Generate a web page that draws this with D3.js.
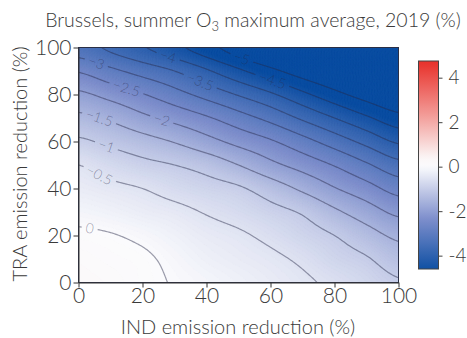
<!DOCTYPE html>
<html><head><meta charset="utf-8">
<script src="https://cdn.jsdelivr.net/npm/d3@7"></script>
<style>
body{margin:0;background:#fff;}
svg{display:block;font-family:Lato,"Open Sans",sans-serif;font-weight:300;}
</style>
</head><body>
<svg id="chart" width="467" height="338"></svg>
<script>
// ---------- data ----------
const indValues = [0,10,20,30,40,50,60,70,80,90,100];   // IND emission reduction (%)
const traValues = [0,10,20,30,40,50,60,70,80,90,100];   // TRA emission reduction (%)
// O3 change (%) ; one row per TRA value, one column per IND value
const o3Change = [
  [ 0.18,  0.15,  0.07, -0.02, -0.11, -0.21, -0.32, -0.44, -0.58, -0.76, -0.96],
  [ 0.15,  0.10,  0.05, -0.08, -0.22, -0.32, -0.42, -0.57, -0.79, -0.96, -1.25],
  [ 0.06,  0.02, -0.07, -0.20, -0.34, -0.44, -0.60, -0.80, -1.00, -1.30, -1.60],
  [-0.12, -0.19, -0.29, -0.38, -0.53, -0.67, -0.85, -1.05, -1.41, -1.76, -2.11],
  [-0.31, -0.40, -0.50, -0.67, -0.81, -0.94, -1.24, -1.59, -1.97, -2.31, -2.69],
  [-0.50, -0.70, -0.87, -1.00, -1.19, -1.50, -1.87, -2.19, -2.53, -2.93, -3.33],
  [-0.92, -1.11, -1.31, -1.53, -1.83, -2.15, -2.44, -2.82, -3.23, -3.65, -4.07],
  [-1.38, -1.58, -1.88, -2.15, -2.44, -2.79, -3.15, -3.58, -4.00, -4.42, -4.82],
  [-1.90, -2.17, -2.47, -2.81, -3.17, -3.54, -3.92, -4.38, -4.83, -5.25, -5.60],
  [-2.54, -2.88, -3.19, -3.50, -3.93, -4.40, -4.85, -5.30, -5.70, -6.10, -6.45],
  [-3.27, -3.60, -3.95, -4.35, -4.80, -5.30, -5.80, -6.25, -6.65, -7.00, -7.30]
];
const contourLevels = [-5,-4.5,-4,-3.5,-3,-2.5,-2,-1.5,-1,-0.5,0];
const labelInd      = [51, 60.6, 28, 38, 5.6, 15, 26, 6.5, 8.7, 6.5, 3.5]; // IND where each level is labelled
const xTicks = [0,20,40,60,80,100];
const yTicks = [0,20,40,60,80,100];
const cbTicks = [4,2,0,-2,-4];
const titleMain = "Brussels, summer O";
const titleSub = "3";
const titleEnd = " maximum average, 2019 (%)";
const xTitle = "IND emission reduction (%)";
const yTitle = "TRA emission reduction (%)";

// ---------- scales ----------
const x = d3.scaleLinear().domain([0,100]).range([78.5,398.5]);
const y = d3.scaleLinear().domain([0,100]).range([282.5,47.5]);
const color = d3.scaleLinear()
  .domain([-4.7,-2.35,0,0.4,2.35,4.7])
  .range(["#0b4ea2","#7d8ecc","#fbfbfd","#fbf6f6","#f29a96","#e8312b"])
  .clamp(true);
const cb = d3.scaleLinear().domain([-4.6,4.75]).range([269,61]);

// ---------- smooth field (Catmull-Rom through the grid values) ----------
function cubic(p0,p1,p2,p3,t){
  return p1 + 0.5*t*(p2-p0 + t*(2*p0-5*p1+4*p2-p3 + t*(3*(p1-p2)+p3-p0)));
}
function field(ind, tra){
  const n = indValues.length-1;
  const u = Math.max(0,Math.min(100,ind))/10, v = Math.max(0,Math.min(100,tra))/10;
  const i = Math.min(Math.floor(u), n-1), j = Math.min(Math.floor(v), n-1);
  const tu = u-i, tv = v-j;
  const c = k => Math.max(0, Math.min(n, k));
  const r = [];
  for (let m=-1;m<=2;m++){
    const row = o3Change[c(j+m)];
    r.push(cubic(row[c(i-1)],row[c(i)],row[c(i+1)],row[c(i+2)],tu));
  }
  return cubic(r[0],r[1],r[2],r[3],tv);
}
const step = 0.5, pad = 2;
const nG = Math.round((100+2*pad)/step)+1;
const grid = new Float64Array(nG*nG);
for (let j=0;j<nG;j++) for (let i=0;i<nG;i++)
  grid[j*nG+i] = field(-pad+i*step, -pad+j*step);
const proj = d3.geoTransform({point(gx,gy){
  this.stream.point(x(-pad+(gx-0.5)*step), y(-pad+(gy-0.5)*step));
}});
const path = d3.geoPath(proj);

// ---------- svg ----------
const svg = d3.select("#chart");
const defs = svg.append("defs");
defs.append("clipPath").attr("id","plotClip").append("rect")
  .attr("x",x(0)).attr("y",y(100)).attr("width",x(100)-x(0)).attr("height",y(0)-y(100));

// heatmap as finely stepped filled contours
const fillThr = d3.range(-7.4, 0.36, 0.04);
const heat = svg.append("g").attr("clip-path","url(#plotClip)");
heat.append("rect").attr("x",x(0)).attr("y",y(100)).attr("width",x(100)-x(0)).attr("height",y(0)-y(100))
  .attr("fill",color(-7.4));
heat.selectAll("path").data(d3.contours().size([nG,nG]).thresholds(fillThr)(grid))
  .join("path").attr("d",path).attr("fill",d=>color(d.value)).attr("stroke",d=>color(d.value)).attr("stroke-width",0.3);

// contour labels
const fmt = d3.format("");
const labels = contourLevels.map((lv,k)=>{
  const xi = labelInd[k];
  let t0 = null;
  for (let t=0;t<100;t+=0.05){
    const a = field(xi,t)-lv, b = field(xi,t+0.05)-lv;
    if (a===0 || a*b<0){ t0 = t + 0.05*a/(a-b); break; }
  }
  const d = 0.5;
  const gx = (field(xi+d,t0)-field(xi-d,t0))/(2*d)/(x(1)-x(0));
  const gy = (field(xi,t0+d)-field(xi,t0-d))/(2*d)/(y(1)-y(0));
  let tx = -gy, ty = gx;
  if (tx<0){tx=-tx;ty=-ty;}
  return {level:lv, px:x(xi), py:y(t0), angle:Math.atan2(ty,tx)*180/Math.PI};
});

const lineColor = "rgb(38,40,72)";
const lblG = svg.append("g");
const lblText = lblG.selectAll("text").data(labels).join("text")
  .attr("transform",d=>`translate(${d.px},${d.py}) rotate(${d.angle})`)
  .attr("text-anchor","middle").attr("dy","0.35em")
  .attr("font-size",14).attr("fill",lineColor).attr("fill-opacity",0.45)
  .text(d=>fmt(d.level));
lblText.each(function(d){ d.w = this.getComputedTextLength(); });

const mask = defs.append("mask").attr("id","lblMask").attr("maskUnits","userSpaceOnUse")
  .attr("x",0).attr("y",0).attr("width",467).attr("height",338);
mask.append("rect").attr("width",467).attr("height",338).attr("fill","#fff");
mask.selectAll("rect.hole").data(labels).join("rect").attr("class","hole")
  .attr("transform",d=>`translate(${d.px},${d.py}) rotate(${d.angle})`)
  .attr("x",d=>-d.w/2-4).attr("y",-8).attr("width",d=>d.w+8).attr("height",16).attr("fill","#000");

svg.insert("g", ()=>lblG.node()).attr("clip-path","url(#plotClip)")
  .append("g").attr("mask","url(#lblMask)")
  .selectAll("path").data(d3.contours().size([nG,nG]).thresholds(contourLevels)(grid))
  .join("path").attr("d",path).attr("fill","none")
  .attr("stroke",lineColor).attr("stroke-opacity",0.45).attr("stroke-width",1.2);

// frame
svg.append("rect").attr("x",x(0)).attr("y",y(100)).attr("width",x(100)-x(0)).attr("height",y(0)-y(100))
  .attr("fill","none").attr("stroke","#2a2f45").attr("stroke-width",1);

// axes
const textCol = "#3a3a3a";
const ax = svg.append("g").attr("transform",`translate(0,${y(0)})`)
  .call(d3.axisBottom(x).tickValues(xTicks).tickSize(5).tickSizeOuter(0).tickPadding(1));
const ay = svg.append("g").attr("transform",`translate(${x(0)},0)`)
  .call(d3.axisLeft(y).tickValues(yTicks).tickSize(5).tickSizeOuter(0).tickPadding(2));
[ax,ay].forEach(g=>{
  g.selectAll("text").attr("font-size",21).attr("fill",textCol)
    .attr("font-family","Lato,'Open Sans',sans-serif").attr("font-weight",300);
  g.selectAll("line,path").attr("stroke","#333");
});

// colorbar
const grad = defs.append("linearGradient").attr("id","cbGrad")
  .attr("x1",0).attr("y1",1).attr("x2",0).attr("y2",0);
const cbDom = cb.domain();
d3.range(0,1.0001,0.025).forEach(t=>{
  grad.append("stop").attr("offset",t).attr("stop-color",color(cbDom[0]+t*(cbDom[1]-cbDom[0])));
});
svg.append("rect").attr("x",418.5).attr("y",cb.range()[1]).attr("width",20)
  .attr("height",cb.range()[0]-cb.range()[1]).attr("fill","url(#cbGrad)")
  .attr("stroke","#444").attr("stroke-width",1);
const acb = svg.append("g").attr("transform","translate(438.5,0)")
  .call(d3.axisRight(cb).tickValues(cbTicks).tickSize(4).tickSizeOuter(0).tickPadding(6).tickFormat(d=>String(d)));
acb.select(".domain").remove();
acb.selectAll("text").attr("font-size",19).attr("fill",textCol)
  .attr("font-family","Lato,'Open Sans',sans-serif").attr("font-weight",300);
acb.selectAll("line").attr("stroke","#444");

// titles
const tt = svg.append("text").attr("x",253).attr("y",27).attr("text-anchor","middle")
  .attr("font-size",19.5).attr("fill",textCol);
tt.append("tspan").text(titleMain);
tt.append("tspan").attr("font-size",13).attr("dy",4).text(titleSub);
tt.append("tspan").attr("dy",-4).text(titleEnd);
svg.append("text").attr("x",238).attr("y",334).attr("text-anchor","middle")
  .attr("font-size",20).attr("fill",textCol).text(xTitle);
svg.append("text").attr("transform","translate(27,164) rotate(-90)").attr("text-anchor","middle")
  .attr("font-size",20).attr("fill",textCol).text(yTitle);
</script>
</body></html>
